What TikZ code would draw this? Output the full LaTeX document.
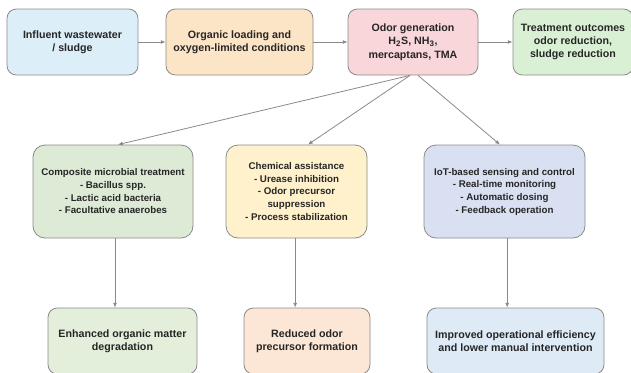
\documentclass[tikz,border=0pt]{standalone}
\usepackage{fontspec}
\setmainfont{Liberation Sans}
\usetikzlibrary{arrows.meta}

\definecolor{bleuclair}{HTML}{DCEEF8}
\definecolor{orangeclair}{HTML}{FCE4C6}
\definecolor{roseclair}{HTML}{F8D6DA}
\definecolor{vertclair}{HTML}{DAF0D5}
\definecolor{vertgris}{HTML}{DDEBD6}
\definecolor{jauneclair}{HTML}{FFF1CC}
\definecolor{lavande}{HTML}{D9E0F1}
\definecolor{vertpale}{HTML}{E3EFDB}
\definecolor{peche}{HTML}{FCE6D6}
\definecolor{bleupale}{HTML}{DEEAF6}
\definecolor{trait}{HTML}{8A8A8A}
\definecolor{texte}{HTML}{262626}

\begin{document}
\begin{tikzpicture}[x=0.75pt, y=-0.75pt,
    boite/.style={draw=trait, line width=0.6pt, rounded corners=7pt, align=center,
        inner sep=0pt, text=texte, minimum height=49.5pt,
        font=\bfseries\fontsize{8}{10}\selectfont},
    boitemilieu/.style={boite, minimum height=69.75pt, rounded corners=9pt,
        font=\bfseries\fontsize{7.3}{9.5}\selectfont},
    fleche/.style={draw=trait, line width=0.6pt, -{Latex[length=3.5pt,width=3pt]}}]
    \useasboundingbox (0,0) rectangle (631,372);

    % Ligne du haut
    \node[boite, fill=bleuclair, minimum width=98.25pt] (influent) at (72.5,42) {Influent wastewater\\ / sludge};
    \node[boite, fill=orangeclair, minimum width=110.25pt] (charge) at (239.5,42) {Organic loading and\\oxygen-limited conditions};
    \node[boite, fill=roseclair, minimum width=97.5pt] (odeur) at (413,42) {Odor generation\\H\textsubscript{2}S, NH\textsubscript{3},\\mercaptans, TMA};
    \node[boite, fill=vertclair, minimum width=90pt] (resultat) at (573,42) {Treatment outcomes\\odor reduction,\\sludge reduction};

    % Ligne du milieu
    \node[boitemilieu, fill=vertgris, minimum width=120pt] (microbien) at (113,191.5) {Composite microbial treatment\\- Bacillus spp.\\- Lactic acid bacteria\\- Facultative anaerobes};
    \node[boitemilieu, fill=jauneclair, minimum width=105.75pt] (chimie) at (296.5,191.5) {Chemical assistance\\- Urease inhibition\\- Odor precursor\\suppression\\- Process stabilization};
    \node[boitemilieu, fill=lavande, minimum width=120.75pt] (iot) at (504.5,191.5) {IoT-based sensing and control\\- Real-time monitoring\\- Automatic dosing\\- Feedback operation};

    % Ligne du bas
    \node[boite, fill=vertpale, minimum width=111.75pt] (degradation) at (122.5,341) {Enhanced organic matter\\degradation};
    \node[boite, fill=peche, minimum width=94.5pt] (precurseur) at (307,341) {Reduced odor\\precursor formation};
    \node[boite, fill=bleupale, minimum width=132.75pt] (efficacite) at (515.5,341) {Improved operational efficiency\\and lower manual intervention};

    % Flèches
    \draw[fleche] (influent) -- (charge);
    \draw[fleche] (charge) -- (odeur);
    \draw[fleche] (odeur) -- (resultat);
    \draw[fleche] ([xshift=-2.25pt]odeur.south) -- ([xshift=3.75pt]microbien.north);
    \draw[fleche] ([xshift=-2.25pt]odeur.south) -- ([xshift=8.6pt]chimie.north);
    \draw[fleche] ([xshift=3.75pt]odeur.south) -- ([xshift=-3.4pt]iot.north);
    \draw[fleche] ([xshift=1.5pt]microbien.south) -- ([xshift=1.5pt]microbien.south |- degradation.north);
    \draw[fleche] ([xshift=-1pt]chimie.south) -- ([xshift=-1pt]chimie.south |- precurseur.north);
    \draw[fleche] ([xshift=2pt]iot.south) -- ([xshift=2pt]iot.south |- efficacite.north);
\end{tikzpicture}
\end{document}
